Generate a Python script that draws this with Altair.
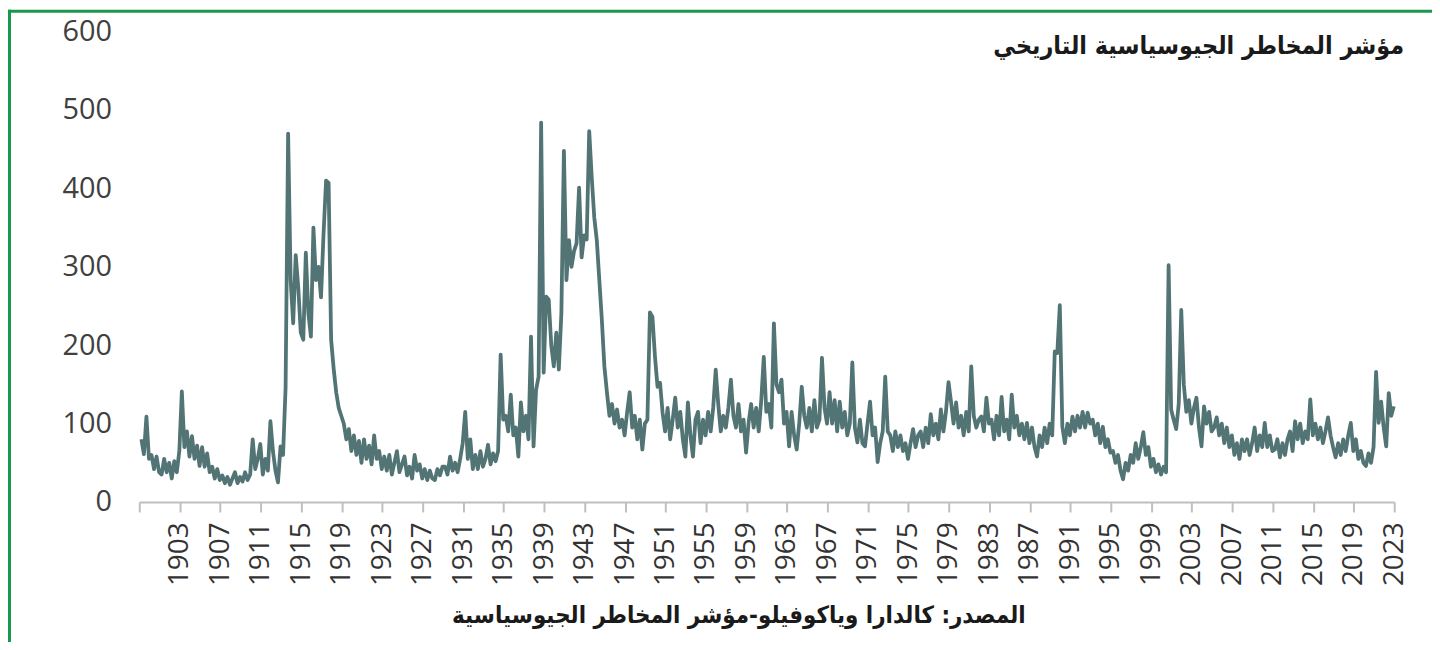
import altair as alt
import pandas as pd

# Historical Geopolitical Risk index, quarterly readings per decade
gpr_1900s = [80, 61, 109, 55, 60, 42, 58, 38, 35, 55, 38, 50, 30, 52, 38, 65,
             141, 70, 90, 58, 84, 55, 72, 46, 70, 45, 62, 38, 45, 30, 42, 28,
             34, 24, 32, 22, 30, 38, 24, 32]
gpr_1910s = [26, 38, 28, 35, 80, 42, 55, 74, 35, 55, 40, 103, 65, 40, 25, 71,
             60, 146, 470, 283, 228, 315, 274, 216, 207, 318, 241, 211,
             350, 283, 300, 261, 342, 410, 407, 207, 170, 140, 120, 110]
gpr_1920s = [100, 80, 93, 65, 85, 60, 78, 50, 80, 55, 72, 48, 85, 55, 65, 42,
             58, 40, 60, 35, 50, 65, 38, 48, 58, 34, 45, 30, 60, 40, 48, 30,
             42, 28, 40, 30, 28, 42, 34, 45]
gpr_1930s = [45, 35, 58, 40, 50, 38, 55, 75, 115, 55, 80, 42, 60, 42, 65, 45,
             55, 73, 48, 62, 52, 65, 188, 105, 110, 90, 137, 85, 95, 58, 127, 90,
             110, 80, 211, 71, 143, 160, 484, 165]
gpr_1940s = [262, 258, 200, 173, 216, 169, 241, 448, 283, 334, 300, 320,
             330, 401, 312, 340, 335, 473, 414, 363, 334, 283, 232, 173,
             140, 110, 125, 100, 118, 95, 105, 85, 115, 140, 95, 110, 80, 105, 67, 100]
gpr_1950s = [105, 242, 236, 185, 147, 152, 114, 90, 120, 80, 105, 133, 95, 115, 80, 58,
             127, 85, 58, 105, 115, 75, 105, 85, 115, 90, 120, 169, 125, 90, 110, 95,
             120, 156, 110, 95, 125, 90, 105, 63]
gpr_1960s = [101, 125, 95, 120, 90, 130, 185, 115, 125, 95, 228, 150, 140, 156, 100, 115,
             71, 115, 85, 67, 100, 147, 110, 95, 120, 90, 130, 95, 105, 184, 120, 100,
             140, 100, 130, 90, 128, 95, 115, 85]
gpr_1970s = [100, 178, 95, 76, 105, 75, 71, 100, 128, 85, 95, 51, 75, 90, 160, 90,
             85, 65, 90, 70, 85, 65, 75, 55, 75, 93, 70, 85, 90, 70, 95, 75,
             112, 85, 100, 80, 118, 90, 115, 153]
gpr_1980s = [128, 100, 127, 95, 110, 85, 115, 90, 173, 110, 95, 105, 109, 90, 133, 100,
             105, 80, 110, 85, 134, 90, 105, 80, 137, 95, 110, 85, 100, 80, 101, 75,
             95, 70, 58, 85, 70, 95, 75, 100]
gpr_1990s = [85, 192, 190, 251, 96, 75, 100, 85, 109, 90, 110, 95, 115, 95, 114, 100,
             105, 85, 100, 75, 96, 70, 80, 63, 65, 50, 60, 40, 29, 50, 40, 60,
             50, 75, 55, 70, 89, 60, 70, 45]
gpr_2000s = [55, 38, 48, 35, 45, 38, 302, 118, 105, 93, 125, 245, 150, 115, 130, 100,
             120, 133, 95, 71, 122, 100, 115, 90, 95, 108, 85, 100, 75, 95, 70, 85,
             60, 75, 55, 80, 65, 80, 60, 75]
gpr_2010s = [95, 65, 85, 70, 101, 70, 85, 65, 67, 80, 57, 75, 60, 80, 90, 65,
             103, 80, 100, 75, 90, 80, 131, 85, 100, 80, 95, 75, 90, 108, 85, 70,
             57, 75, 60, 80, 65, 85, 101, 65]
gpr_2020s = [80, 55, 65, 50, 46, 62, 50, 70, 166, 101, 128, 95, 71, 139, 110, 122]

decade_starts = [1900, 1910, 1920, 1930, 1940, 1950, 1960, 1970, 1980, 1990, 2000, 2010, 2020]
decade_values = [gpr_1900s, gpr_1910s, gpr_1920s, gpr_1930s, gpr_1940s, gpr_1950s,
                 gpr_1960s, gpr_1970s, gpr_1980s, gpr_1990s, gpr_2000s, gpr_2010s, gpr_2020s]

tick_years = list(range(1899, 2024, 4))  # 1899 (unlabelled), 1903 ... 2023

title_text = "مؤشر المخاطر الجيوسياسية التاريخي"
source_text = "المصدر: كالدارا وياكوفيلو-مؤشر المخاطر الجيوسياسية"

rows = []
for start, vals in zip(decade_starts, decade_values):
    for i, v in enumerate(vals):
        rows.append({"t": start + 0.125 + 0.25 * i, "gpr": v})
df = pd.DataFrame(rows)

tick_vals = [y + 11 / 12 for y in tick_years]

line = alt.Chart(df).mark_line(color="#527474", strokeWidth=3.8, strokeJoin="round").encode(
    x=alt.X("t:Q",
            scale=alt.Scale(domain=[1899 + 11 / 12, 2023 + 11 / 12], nice=False, zero=False),
            axis=alt.Axis(values=tick_vals, title=None, grid=False,
                          labelExpr="datum.value < 1901 ? '' : format(floor(datum.value), 'd')",
                          labelAngle=-90, labelFontSize=28, labelFont="Open Sans",
                          labelColor="#333333", labelPadding=10, labelOverlap=False,
                          labelFlush=False, domainColor="#bfbfbf", domainWidth=2,
                          tickColor="#bfbfbf", tickWidth=2, tickSize=10)),
    y=alt.Y("gpr:Q",
            scale=alt.Scale(domain=[0, 600], nice=False),
            axis=alt.Axis(values=[0, 100, 200, 300, 400, 500, 600], title=None, grid=False,
                          domain=False, ticks=False, labelFontSize=29, labelFont="Open Sans",
                          labelColor="#404040", labelPadding=28)),
)

one = pd.DataFrame({"k": [0]})

title = alt.Chart(pd.DataFrame({"txt": [title_text]})).mark_text(
    align="right", baseline="middle", fontSize=25, fontWeight="bold",
    font="DejaVu Sans Condensed", color="#1a1a1a"
).encode(text="txt:N", x=alt.value(1272), y=alt.value(14))

source = alt.Chart(pd.DataFrame({"txt": [source_text]})).mark_text(
    align="center", baseline="middle", fontSize=24, fontWeight="bold",
    font="DejaVu Sans Condensed", color="#1a1a1a"
).encode(text="txt:N", x=alt.value(603), y=alt.value(588))

border_top = alt.Chart(one).mark_rule(color="#18984a", strokeWidth=3).encode(
    x=alt.value(-132), x2=alt.value(1300), y=alt.value(-20.5))
border_left = alt.Chart(one).mark_rule(color="#18984a", strokeWidth=3).encode(
    x=alt.value(-130.5), y=alt.value(-22), y2=alt.value(640))

chart = alt.layer(line, title, source, border_top, border_left).properties(
    width=1262, height=473,
    background="white",
    autosize=alt.AutoSizeParams(type="none"),
    padding={"left": 132, "top": 22, "right": 38, "bottom": 139},
).configure_view(stroke=None)

chart.save("out.html", embed_options={"renderer": "svg", "actions": False})
